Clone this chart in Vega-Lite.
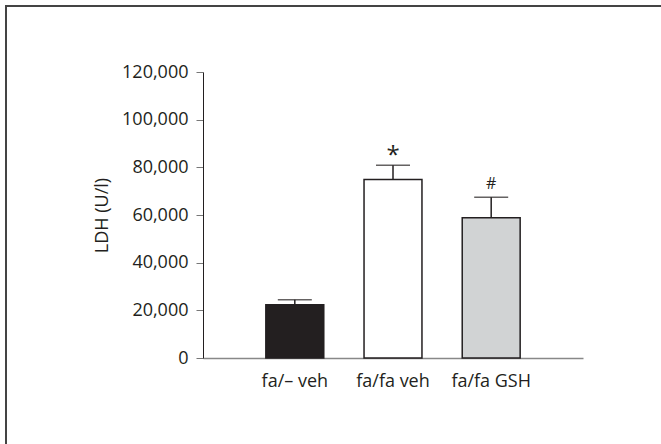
{
  "$schema": "https://vega.github.io/schema/vega-lite/v6.json",
  "width": 655,
  "height": 438,
  "autosize": {"type": "none"},
  "padding": {"left": 6, "top": 6, "right": 0, "bottom": 0},
  "background": "white",
  "config": {
    "view": {"stroke": "#444444", "strokeWidth": 2, "strokeDash": [655, 1093, 438]},
    "font": "Open Sans"
  },
  "data": {
    "values": [
      {"group": "fa/– veh", "mean": 22300, "upper": 24400, "sig": ""},
      {"group": "fa/fa veh", "mean": 74900, "upper": 80900, "sig": "*"},
      {"group": "fa/fa GSH", "mean": 58800, "upper": 67500, "sig": "#"}
    ]
  },
  "encoding": {
    "x": {
      "field": "group",
      "type": "nominal",
      "sort": null,
      "scale": {"range": [197, 577], "paddingInner": 0.41, "paddingOuter": 0.64},
      "axis": {
        "title": null,
        "labelAngle": 0,
        "ticks": false,
        "domainColor": "#888888",
        "domainWidth": 1.5,
        "offset": -86,
        "labelFont": "Open Sans",
        "labelFontSize": 18,
        "labelPadding": 14,
        "labelColor": "#231f20"
      }
    }
  },
  "layer": [
    {
      "mark": {"type": "bar", "stroke": "#231f20", "strokeWidth": 1.5},
      "encoding": {
        "y": {
          "field": "mean",
          "type": "quantitative",
          "scale": {"domain": [0, 120000], "range": [352, 66], "nice": false, "zero": true},
          "axis": {
            "title": "LDH (U/l)",
            "values": [0, 20000, 40000, 60000, 80000, 100000, 120000],
            "format": ",d",
            "grid": false,
            "offset": -197,
            "domainColor": "#231f20",
            "domainWidth": 1,
            "tickColor": "#777777",
            "tickSize": 7,
            "tickWidth": 1,
            "labelFont": "Open Sans",
            "labelFontSize": 18,
            "labelColor": "#231f20",
            "labelPadding": 8,
            "titleFont": "Open Sans",
            "titleFontSize": 18,
            "titleFontWeight": "normal",
            "titleColor": "#231f20",
            "titlePadding": 10
          }
        },
        "fill": {
          "field": "group",
          "type": "nominal",
          "scale": {"domain": ["fa/– veh", "fa/fa veh", "fa/fa GSH"], "range": ["#231f20", "#ffffff", "#d1d3d4"]},
          "legend": null
        }
      }
    },
    {
      "mark": {"type": "rule", "color": "#231f20", "strokeWidth": 1.5},
      "encoding": {
        "y": {"field": "mean", "type": "quantitative"},
        "y2": {"field": "upper"}
      }
    },
    {
      "mark": {"type": "tick", "color": "#231f20", "thickness": 1.5, "size": 34, "orient": "horizontal"},
      "encoding": {
        "y": {"field": "upper", "type": "quantitative"}
      }
    },
    {
      "transform": [{"filter": "datum.sig === '*'"}],
      "mark": {"type": "text", "font": "Open Sans", "fontSize": 24, "baseline": "alphabetic", "dy": -2, "color": "#231f20"},
      "encoding": {
        "y": {"field": "upper", "type": "quantitative"},
        "text": {"field": "sig"}
      }
    },
    {
      "transform": [{"filter": "datum.sig === '#'"}],
      "mark": {"type": "text", "font": "Open Sans", "fontSize": 16, "baseline": "alphabetic", "dy": -8, "color": "#231f20"},
      "encoding": {
        "y": {"field": "upper", "type": "quantitative"},
        "text": {"field": "sig"}
      }
    }
  ]
}
